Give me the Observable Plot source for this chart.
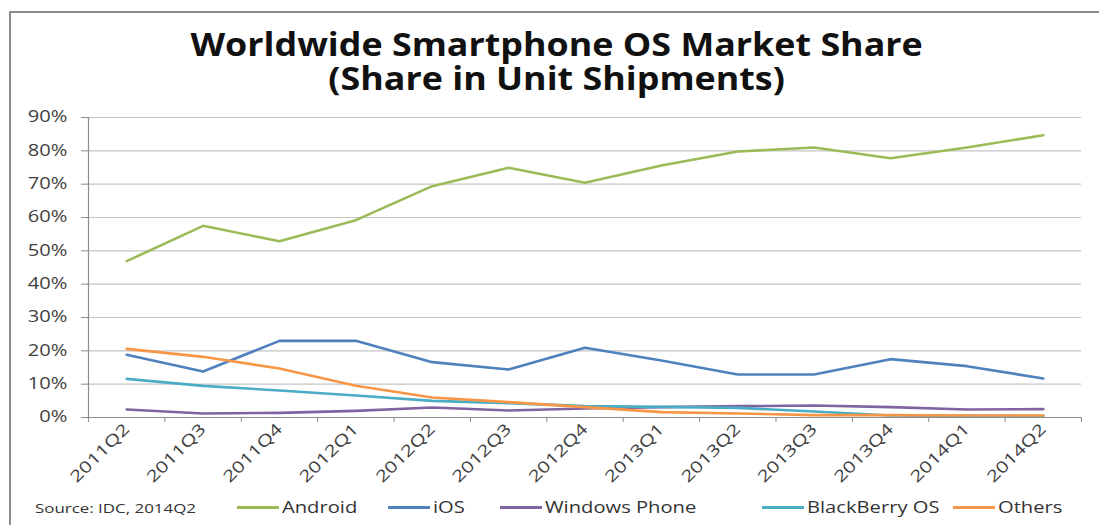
<!DOCTYPE html>
<html>
<head>
<meta charset="utf-8">
<script src="https://cdn.jsdelivr.net/npm/d3@7"></script>
<script src="https://cdn.jsdelivr.net/npm/@observablehq/plot@0.6"></script>
<style>
  html, body { margin: 0; padding: 0; background: #fff; }
  #page { position: relative; width: 1099px; height: 525px; overflow: hidden; background: #fff; }
  #frame { position: absolute; left: 9px; top: 11px; width: 1100px; height: 530px;
           border-top: 2px solid #8c8c8c; border-left: 2px solid #8c8c8c; }
  .title { position: absolute; left: 8px; width: 1099px; text-align: center; white-space: nowrap;
           font-family: "Open Sans", sans-serif; font-weight: 700; font-size: 32px; line-height: 32px; color: #111;
           transform: scaleX(1.12); transform-origin: 557px 0; }
  #title1 { top: 28px; }
  #title2 { top: 62px; }
  #chart { position: absolute; left: 0; top: 100px; }
  #legend { position: absolute; top: 496px; left: 0; width: 1099px; height: 22px;
            font-family: "Open Sans", sans-serif; color: #333; }
  #legend .src { position: absolute; left: 35px; top: 3px; font-size: 13px; transform: scaleX(1.3); transform-origin: 0 0; white-space: nowrap; }
  #legend .item { position: absolute; top: 0; font-size: 16px; white-space: nowrap; display: flex; align-items: center; }
  #legend .sw { display: inline-block; width: 42px; height: 3px; margin-right: 3px; }
  #legend .lab { display: inline-block; transform: scaleX(1.26); transform-origin: 0 50%; }
</style>
</head>
<body>
<div id="page">
  <div id="frame"></div>
  <div class="title" id="title1">Worldwide Smartphone OS Market Share</div>
  <div class="title" id="title2">(Share in Unit Shipments)</div>
  <div id="chart"></div>
  <div id="legend"></div>
</div>
<script>
// ---- data (percent of unit shipments) ----
const quarters = ["2011Q2","2011Q3","2011Q4","2012Q1","2012Q2","2012Q3","2012Q4",
                  "2013Q1","2013Q2","2013Q3","2013Q4","2014Q1","2014Q2"];
const android      = [46.9, 57.5, 52.9, 59.2, 69.4, 74.9, 70.4, 75.6, 79.8, 81.0, 77.8, 81.0, 84.7];
const ios          = [18.8, 13.8, 23.0, 23.0, 16.6, 14.4, 20.9, 17.1, 12.9, 12.9, 17.5, 15.4, 11.7];
const windowsPhone = [2.4, 1.2, 1.4, 2.0, 3.0, 2.1, 2.7, 3.1, 3.4, 3.6, 3.1, 2.4, 2.5];
const blackberry   = [11.6, 9.5, 8.1, 6.6, 5.0, 4.3, 3.4, 3.2, 2.9, 1.8, 0.6, 0.5, 0.5];
const others       = [20.6, 18.2, 14.7, 9.5, 6.0, 4.6, 3.1, 1.6, 1.2, 0.7, 0.7, 0.6, 0.6];
const seriesNames  = ["Android", "iOS", "Windows Phone", "BlackBerry OS", "Others"];
const seriesValues = [android, ios, windowsPhone, blackberry, others];
const seriesColors = ["#9bbb59", "#4f81bd", "#8064a2", "#4bacc6", "#f79646"];
const yTicks = [0, 0.1, 0.2, 0.3, 0.4, 0.5, 0.6, 0.7, 0.8, 0.9];
const sourceNote = "Source: IDC, 2014Q2";

// ---- table for Plot ----
const rows = [];
seriesNames.forEach((name, s) => {
  seriesValues[s].forEach((v, i) => rows.push({series: name, pos: i + 0.5, quarter: quarters[i], value: v / 100}));
});
const boundaries = d3.range(quarters.length + 1);
const centers = quarters.map((q, i) => i + 0.5);

const chart = Plot.plot({
  width: 1099,
  height: 390,
  marginLeft: 88,
  marginRight: 18,
  marginTop: 17,
  marginBottom: 73,
  style: {background: "transparent", fontFamily: "Open Sans, sans-serif", color: "#404040"},
  x: {type: "linear", domain: [0, quarters.length], axis: null},
  y: {domain: [0, 0.9], axis: null},
  color: {domain: seriesNames, range: seriesColors},
  marks: [
    Plot.gridY(yTicks.filter(d => d > 0), {stroke: "#c4c4c4", strokeOpacity: 1, strokeWidth: 1.2}),
    Plot.axisY(yTicks, {tickFormat: d3.format(".0%"), tickSize: 7, tickPadding: 14, fontSize: 15.5,
                        stroke: "#8c8c8c", fill: "#404040", label: null}),
    Plot.axisX(boundaries, {tickSize: 5, tickFormat: () => "", stroke: "#8c8c8c", label: null}),
    Plot.axisX(centers, {tickSize: 0, tickPadding: 9, tickRotate: -45, fontSize: 16, fill: "#404040", label: null,
                         tickFormat: d => quarters[Math.round(d - 0.5)]}),
    Plot.ruleY([0], {stroke: "#8c8c8c", strokeWidth: 1.2}),
    Plot.ruleX([0], {stroke: "#8c8c8c", strokeWidth: 1.2}),
    Plot.lineY(rows, {x: "pos", y: "value", z: "series", stroke: "series", strokeWidth: 2.6,
                      strokeLinejoin: "round", strokeLinecap: "round"})
  ]
});
// widen the tick label glyphs along their baseline (the reference text is horizontally stretched)
chart.querySelectorAll('g[aria-label="y-axis tick label"] text, g[aria-label="x-axis tick label"] text').forEach(t => {
  const tr = t.getAttribute("transform");
  if (tr && tr.includes("translate")) t.setAttribute("transform", tr + " scale(1.3,1)");
});
document.getElementById("chart").appendChild(chart);

// ---- legend ----
const legend = document.getElementById("legend");
const src = document.createElement("span");
src.className = "src";
src.textContent = sourceNote;
legend.appendChild(src);
const legendLeft = [237, 388, 500, 762, 953];
seriesNames.forEach((name, s) => {
  const item = document.createElement("div");
  item.className = "item";
  item.style.left = legendLeft[s] + "px";
  const sw = document.createElement("span");
  sw.className = "sw";
  sw.style.background = seriesColors[s];
  const t = document.createElement("span");
  t.className = "lab";
  t.textContent = name;
  item.appendChild(sw);
  item.appendChild(t);
  legend.appendChild(item);
});
</script>
</body>
</html>
